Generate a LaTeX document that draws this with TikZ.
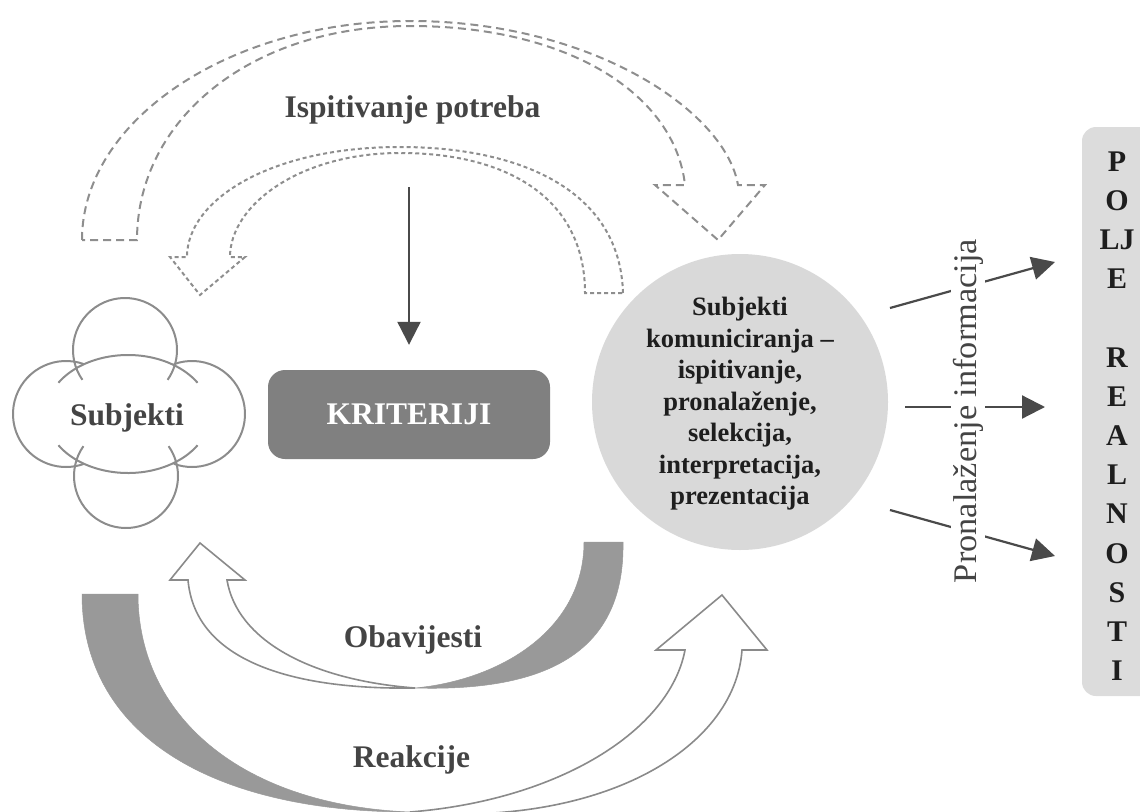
\documentclass[tikz,border=0pt]{standalone}
\usepackage{fontspec}
\setmainfont{Liberation Serif}
\usetikzlibrary{arrows.meta}
\definecolor{dashgray}{HTML}{8E8E8E}
\definecolor{cloudgray}{HTML}{8C8C8C}
\definecolor{arrowgray}{HTML}{4A4A4A}
\definecolor{kritfill}{HTML}{808080}
\definecolor{circfill}{HTML}{D9D9D9}
\definecolor{boxfill}{HTML}{DCDCDC}
\definecolor{bandgray}{HTML}{999999}
\definecolor{outlinegray}{HTML}{8A8A8A}
\definecolor{labelgray}{HTML}{444444}
\definecolor{inkgray}{HTML}{1E1E1E}
\begin{document}
\begin{tikzpicture}[x=1pt,y=-1pt,
  dashedarrow/.style={draw=dashgray, line width=2pt, dash pattern=on 8pt off 5pt},
  dottedarrow/.style={draw=dashgray, line width=2pt, dash pattern=on 4pt off 3pt},
  cloudline/.style={draw=cloudgray, line width=2pt},
  band/.style={fill=bandgray, draw=bandgray, line width=0.5pt},
  hollow/.style={fill=white, draw=outlinegray, line width=1.6pt, line join=miter},
  darrow/.style={draw=arrowgray, line width=2.2pt, -{Triangle[width=23pt,length=23pt]}},
  lbl/.style={font=\fontsize{31.5}{36}\selectfont\bfseries, text=labelgray, inner sep=0pt},
]
\useasboundingbox (0,0) rectangle (1140,811);

% ---- needs survey: two dashed curved arrows ----
\draw[dashedarrow] (82,240) .. controls (82,120) and (230,21) .. (410,21)
  .. controls (590,21) and (725,110) .. (738,185)
  -- (765,185) -- (718,240) -- (655,185) -- (685,185)
  .. controls (675,95) and (570,26) .. (410,26)
  .. controls (250,26) and (137,120) .. (137,240) -- cycle;
\draw[dottedarrow] (623,293) .. controls (620,190) and (520,147) .. (400,147)
  .. controls (270,147) and (187,200) .. (187,257)
  -- (170,257) -- (200,295) -- (245,257) -- (230,257)
  .. controls (230,205) and (300,153) .. (400,153)
  .. controls (510,153) and (585,200) .. (585,293) -- cycle;
\node[lbl, anchor=base] (ispit) at (412.5,117) {Ispitivanje potreba};

% ---- cloud of subjects ----
\draw[cloudline] (125,350) ++(145:52) arc[start angle=145, end angle=395, radius=52];
\draw[cloudline] (126,476) ++(215:52) arc[start angle=215, end angle=-35, radius=52];
\draw[cloudline] (66,414) ++(290:53) arc[start angle=290, end angle=70, radius=53];
\draw[cloudline] (192,414) ++(-110:53) arc[start angle=-110, end angle=110, radius=53];
\draw[cloudline] (128,414) ++(212:82 and 59) arc[start angle=212, end angle=328, x radius=82, y radius=59];
\draw[cloudline] (128,414) ++(148:82 and 59) arc[start angle=148, end angle=32, x radius=82, y radius=59];
\node[lbl, anchor=base] (subjekti) at (127,425) {Subjekti};

% ---- criteria box ----
\node[rectangle, rounded corners=17pt, fill=kritfill, minimum width=282pt,
      minimum height=89pt, inner sep=0pt, text=white,
      font=\fontsize{31.5}{36}\selectfont\bfseries] (krit) at (409,414.5) {KRITERIJI};
\coordinate (vtop) at (409,187);
\draw[darrow, shorten >=25pt] (vtop) -- (krit.north);

% ---- communicating subjects ----
\node[circle, fill=circfill, minimum size=296pt, inner sep=0pt] (komun) at (740,402) {};
\node[align=center, text=inkgray, inner sep=0pt,
      font=\fontsize{26.5}{31.5}\selectfont\bfseries] (komuntxt) at (740,404)
  {Subjekti\\komuniciranja –\\ispitivanje,\\pronalaženje,\\selekcija,\\interpretacija,\\prezentacija};

% ---- field of reality ----
\fill[boxfill, rounded corners=14pt] (1082,127) rectangle (1160,696);
\foreach \ch [count=\i from 0] in {P,O,LJ,E,{},R,E,A,L,N,O,S,T,I}
  \node[anchor=base, text=inkgray, inner sep=0pt,
        font=\fontsize{30}{34}\selectfont\bfseries] (polje\i) at (1117,{171+39.2*\i}) {\ch};

% ---- information retrieval arrows ----
\coordinate (a1s) at (890,308); \coordinate (a1e) at (1055,262);
\coordinate (a2s) at (905,407); \coordinate (a2e) at (1045,407);
\coordinate (a3s) at (890,510); \coordinate (a3e) at (1055,556);
\draw[darrow] (a1s) -- (a1e);
\draw[darrow] (a2s) -- (a2e);
\draw[darrow] (a3s) -- (a3e);
\node[rotate=90, fill=white, inner sep=1.5pt, text=labelgray,
      font=\fontsize{33}{38}\selectfont] (pronal) at (968,411)
  {\scalebox{1.04}[1]{Pronalaženje informacija}};

% ---- notifications: curved ribbon, front white, back grey ----
\draw[hollow] (200,543) -- (245,580) -- (227,580)
  .. controls (237,640) and (310,680) .. (415,688)
  .. controls (290,690) and (195,660) .. (188,580)
  -- (170,580) -- cycle;
\draw[band] (415,688) .. controls (550,692) and (625,650) .. (623,542)
  -- (584,542) .. controls (584,630) and (500,680) .. (415,688) -- cycle;
\node[lbl, anchor=base] (obav) at (413,647) {Obavijesti};

% ---- reactions: curved ribbon, back grey, front white ----
\draw[band] (82,594) .. controls (82,740) and (220,812) .. (410,812)
  .. controls (240,805) and (138,715) .. (138,594) -- cycle;
\draw[hollow] (410,812) .. controls (560,800) and (670,730) .. (685,650)
  -- (656,650) -- (722,595) -- (767,650) -- (742,650)
  .. controls (735,750) and (600,828) .. (410,812) -- cycle;
\node[lbl, anchor=base] (reak) at (411.5,767) {Reakcije};
\end{tikzpicture}
\end{document}
